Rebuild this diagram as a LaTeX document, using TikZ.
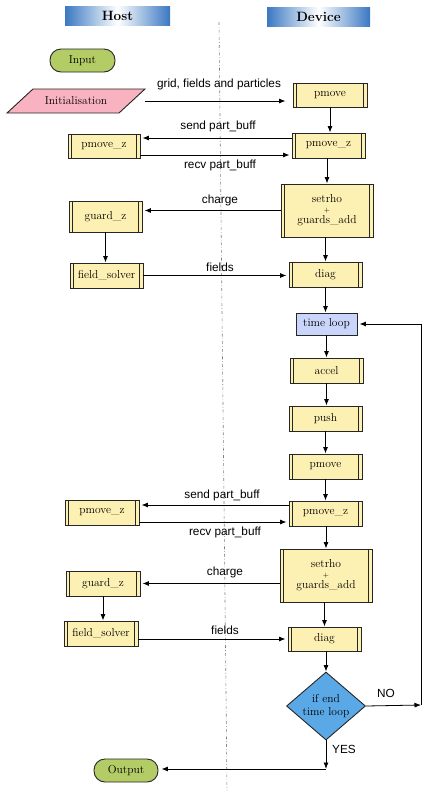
\documentclass[tikz,border=0pt]{standalone}
\usepackage{fontspec}
\newfontfamily\labfont{Liberation Sans}
\usetikzlibrary{shapes.geometric,arrows.meta,calc}
\definecolor{procfill}{HTML}{FDF0B3}
\definecolor{pillfill}{HTML}{B3CC66}
\definecolor{initfill}{HTML}{F9B3C0}
\definecolor{loopfill}{HTML}{C9D5FA}
\definecolor{diafill}{HTML}{5BA8E6}
\definecolor{hblue}{HTML}{3A78C2}
\definecolor{edge}{HTML}{262626}
\tikzset{
  proc/.style={draw=edge, line width=0.9pt, fill=procfill, inner sep=0pt,
    font=\fontsize{11.5}{13}\selectfont, align=center,
    path picture={
      \draw[edge, line width=0.7pt] ([xshift=3.6pt]path picture bounding box.south west) -- ([xshift=3.6pt]path picture bounding box.north west);
      \draw[edge, line width=0.7pt] ([xshift=-3.6pt]path picture bounding box.south east) -- ([xshift=-3.6pt]path picture bounding box.north east);
    }},
  pill/.style={draw=edge, line width=0.9pt, fill=pillfill, rounded corners=11pt, inner sep=0pt,
    minimum height=23pt, font=\fontsize{11.5}{13}\selectfont},
  header/.style={left color=hblue, right color=hblue, middle color=white, inner sep=0pt,
    minimum height=18.5pt, font=\fontsize{13.5}{15}\selectfont\bfseries},
  conn/.style={draw=black, line width=0.8pt, -{Latex[length=6.5pt,width=5pt]}},
  plain/.style={draw=black, line width=0.8pt},
  lab/.style={font=\labfont\fontsize{11.8}{13}\selectfont, inner sep=0pt},
}
\begin{document}
\begin{tikzpicture}[x=1pt,y=-1pt]
\useasboundingbox (0,0) rectangle (440,796);
% headers
\node[header, minimum width=105pt] (hhost) at (117.5,16) {Host};
\node[header, minimum width=103pt] (hdev) at (318.5,17) {Device};
% separator
\draw[gray, line width=0.6pt, dash dot] (219,22) -- (227,790);
% start
\node[pill, minimum width=65pt] (input) at (82.5,60.5) {Input};
\filldraw[draw=edge, line width=0.9pt, fill=initfill] (33,89) -- (145,89) -- (119,113) -- (7,113) -- cycle;
\node[font=\fontsize{11.5}{13}\selectfont, inner sep=0pt] (init) at (76,101) {Initialisation};
% first block
\node[proc, minimum width=74pt, minimum height=24pt] (pm1) at (330,95) {pmove};
\node[proc, minimum width=73pt, minimum height=25pt] (pmz1d) at (328.5,145.5) {pmove\_z};
\node[proc, minimum width=72pt, minimum height=24pt] (pmz1h) at (104,146) {pmove\_z};
\node[proc, minimum width=92pt, minimum height=53pt] (sr1) at (327,210.5) {setrho\\[-3pt]{\fontsize{7}{8}\selectfont +}\\[-2pt]guards\_add};
\node[proc, minimum width=73pt, minimum height=31pt] (gz1) at (105.5,216.5) {guard\_z};
\node[proc, minimum width=73pt, minimum height=25pt] (fs1) at (106.5,275.5) {field\_solver};
\node[proc, minimum width=73pt, minimum height=25pt] (dg1) at (325.5,274.5) {diag};
% loop
\node[draw=edge, line width=0.9pt, fill=loopfill, minimum width=61pt, minimum height=22pt, inner sep=0pt,
  font=\fontsize{11.5}{13}\selectfont] (tl) at (326.5,324) {time loop};
\node[proc, minimum width=73pt, minimum height=25pt] (ac) at (326.5,370.5) {accel};
\node[proc, minimum width=73pt, minimum height=25pt] (pu) at (325.5,418.5) {push};
\node[proc, minimum width=73pt, minimum height=25pt] (pm2) at (325.5,466.5) {pmove};
\node[proc, minimum width=73pt, minimum height=25pt] (pmz2d) at (325.5,513.5) {pmove\_z};
\node[proc, minimum width=74pt, minimum height=25pt] (pmz2h) at (102,512.5) {pmove\_z};
\node[proc, minimum width=92pt, minimum height=53pt] (sr2) at (326,575.5) {setrho\\[-3pt]{\fontsize{7}{8}\selectfont +}\\[-2pt]guards\_add};
\node[proc, minimum width=74pt, minimum height=25pt] (gz2) at (103,583.5) {guard\_z};
\node[proc, minimum width=74pt, minimum height=25pt] (fs2) at (101,633.5) {field\_solver};
\node[proc, minimum width=73pt, minimum height=24pt] (dg2) at (324.5,639) {diag};
\node[diamond, draw=edge, line width=0.9pt, fill=diafill, minimum width=79pt, minimum height=68pt,
  inner sep=0pt, aspect=1.16, align=center, font=\fontsize{11.5}{12.5}\selectfont] (dia) at (326,706) {if end\\time loop};
\node[pill, minimum width=64pt] (out) at (126,770.5) {Output};
% coordinates
\coordinate (nocorner) at (421,705);
\coordinate (loopcorner) at (421,324);
\coordinate (yescorner) at (326,769);
% connectors
\draw[conn, shorten >=7pt] (145,101) -- (init -| pm1.west);
\draw[conn] (pm1.south) -- (pm1.south |- pmz1d.north);
\draw[conn, shorten >=2pt] ([yshift=7.5pt]pmz1d.west) -- ([yshift=7.5pt]pmz1d.west -| pmz1h.east);
\draw[conn, shorten >=2pt] ([yshift=-9pt]pmz1h.east) -- ([yshift=-9pt]pmz1h.east -| pmz1d.west);
\draw[conn] (pmz1d.south -| sr1.north) -- (sr1.north);
\draw[conn, shorten >=2pt] (sr1.west) -- (sr1.west -| gz1.east);
\draw[conn] (gz1.south) -- (gz1.south |- fs1.north);
\draw[conn, shorten >=2pt] (fs1.east) -- (fs1.east -| dg1.west);
\draw[conn] (sr1.south -| dg1.north) -- (dg1.north);
\draw[conn] (dg1.south) -- (dg1.south |- tl.north);
\draw[conn] (tl.south) -- (tl.south |- ac.north);
\draw[conn] (ac.south) -- (ac.south |- pu.north);
\draw[conn] (pu.south) -- (pu.south |- pm2.north);
\draw[conn] (pm2.south) -- (pm2.south |- pmz2d.north);
\draw[conn, shorten >=2pt] ([yshift=8.5pt]pmz2d.west) -- ([yshift=8.5pt]pmz2d.west -| pmz2h.east);
\draw[conn, shorten >=2pt] ([yshift=-8.5pt]pmz2d.west -| pmz2h.east) -- ([yshift=-8.5pt]pmz2d.west);
\draw[conn] (pmz2d.south -| sr2.north) -- (sr2.north);
\draw[conn, shorten >=2pt] (gz2.east -| sr2.west) -- (gz2.east);
\draw[conn] (gz2.south) -- (gz2.south |- fs2.north);
\draw[conn, shorten >=2pt] (dg2.west -| fs2.east) -- (dg2.west);
\draw[conn] (sr2.south -| dg2.north) -- (dg2.north);
\draw[conn] (dg2.south -| dia.north) -- (dia.north);
\draw[conn] (dia.east) -- (nocorner);
\draw[plain] (nocorner) -- (loopcorner);
\draw[conn, shorten >=2pt] (loopcorner) -- (tl.east);
\draw[conn] (dia.south) -- (yescorner);
\draw[conn, shorten >=3pt] (yescorner) -- (yescorner -| out.east);
% labels
\node[lab] (l1) at (219,84) {grid, fields and particles};
\node[lab] (l2) at (218,126) {send part\_buff};
\node[lab] (l3) at (220,165) {recv part\_buff};
\node[lab] (l4) at (220,200) {charge};
\node[lab] (l5) at (220,267) {fields};
\node[lab] (l6) at (222,495) {send part\_buff};
\node[lab] (l7) at (225,532) {recv part\_buff};
\node[lab] (l8) at (225,572) {charge};
\node[lab] (l9) at (225,630) {fields};
\node[lab] (l10) at (386,693) {NO};
\node[lab] (l11) at (344,749) {YES};
\end{tikzpicture}
\end{document}
